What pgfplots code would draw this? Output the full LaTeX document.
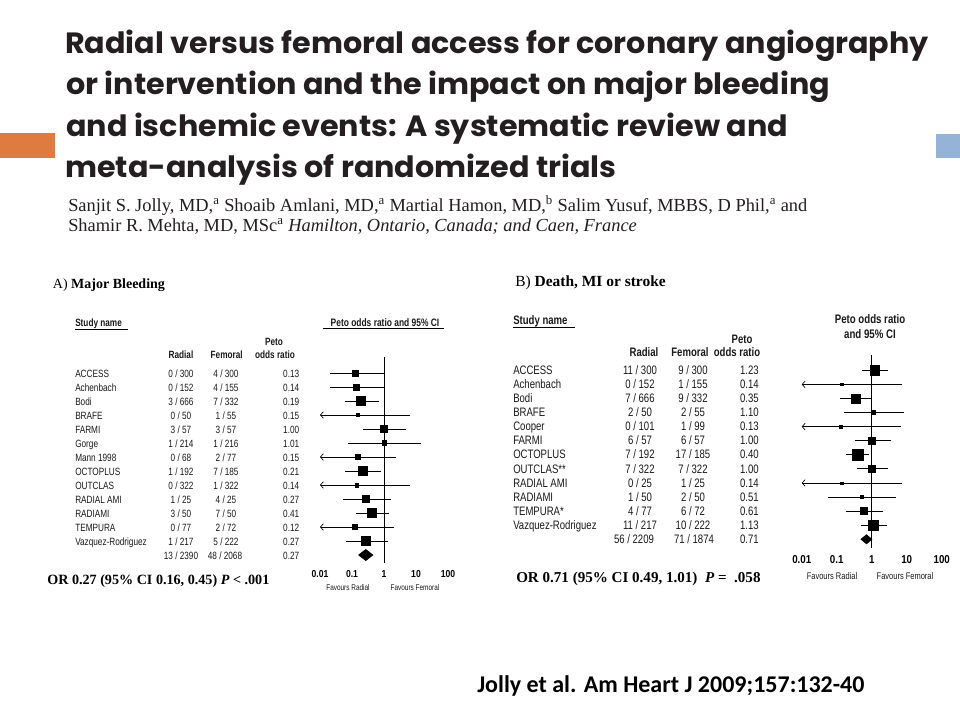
\documentclass[border=0pt]{standalone}
\usepackage{fontspec}
\usepackage{pgfplots}
\usepackage{pgfplotstable}
\pgfplotsset{compat=1.18}
\usetikzlibrary{arrows.meta}
\setmainfont{Liberation Serif}
\newfontfamily\titlefont{Poppins}[FakeStretch=1.03]
\newfontfamily\narrowfont{Liberation Sans}[FakeStretch=0.78]
\newfontfamily\ticfont{Liberation Sans}[FakeStretch=0.85]
\newfontfamily\footfont{Carlito}
\definecolor{titlecol}{HTML}{231F20}
\definecolor{orangebar}{HTML}{E07B3F}
\definecolor{bluebar}{HTML}{95B3D7}
\definecolor{tabcol}{HTML}{1A1A1A}

% Forest plot A: row, Peto OR, lower, upper, square side (px)
\pgfplotstableread{
row or   lo    hi   sz
0  0.13 0.02  1.00 6.0
1  0.14 0.02  1.00 6.0
2  0.19 0.06  0.71 9.5
3  0.15 0.01  6.7  3.3
4  1.00 0.22  4.7  7.3
5  1.01 0.074 14   4.7
6  0.15 0.01  2.3  4.7
7  0.21 0.061 0.81 9.0
8  0.14 0.01  6.5  3.7
9  0.27 0.052 1.66 7.0
10 0.41 0.13  1.47 9.3
11 0.12 0.01  2.0  4.7
12 0.27 0.066 1.29 8.7
}\forestA
% Forest plot B
\pgfplotstableread{
row or   lo    hi   sz
0  1.23 0.52  3.0  9.7
1  0.14 0.01  7.2  2.7
2  0.35 0.12  1.0  8.7
3  1.10 0.16  8.4  3.7
4  0.13 0.01  6.7  2.4
5  1.00 0.33  3.5  7.3
6  0.40 0.18  0.85 10.7
7  1.00 0.39  2.98 7.3
8  0.14 0.01  7.2  2.2
9  0.51 0.058 4.9  3.4
10 0.61 0.18  2.15 7.0
11 1.13 0.48  2.8  10.3
}\forestB

\tikzset{
  myci/.style={black, line width=0.6pt},
  mycia/.style={black, line width=0.6pt, {Straight Barb[length=2.2pt,width=5pt,line width=0.5pt]}-},
}

\begin{document}
\begin{tikzpicture}
\path[use as bounding box] (0,0) rectangle (720pt,-540pt);
\fill[white] (0,0) rectangle (720pt,-540pt);

\begin{scope}[x=0.75pt, y=-0.75pt]
% side bars
\fill[orangebar] (0,133.3) rectangle (55,157.7);
\fill[bluebar] (936,134) rectangle (960,157.7);

% title
\tikzset{ttl/.style={anchor=base west, inner sep=0, text=titlecol, font=\titlefont\bfseries\fontsize{22}{24}\selectfont}}
\node[ttl] at (65,53.5) {Radial versus femoral access for coronary angiography};
\node[ttl] at (66,95) {or intervention and the impact on major bleeding};
\node[ttl] at (66,136.5) {and ischemic events: A systematic review and};
\node[ttl] at (65,178) {meta-analysis of randomized trials};

% authors
\tikzset{aut/.style={anchor=base west, inner sep=0, text=titlecol, font=\fontsize{13.8}{16}\selectfont}}
\node[aut] at (68,211.5) {Sanjit S. Jolly, MD,\textsuperscript{a} Shoaib Amlani, MD,\textsuperscript{a} Martial Hamon, MD,\textsuperscript{b} Salim Yusuf, MBBS, D Phil,\textsuperscript{a} and};
\node[aut] at (68,231.5) {Shamir R. Mehta, MD, MSc\textsuperscript{a} \textit{Hamilton, Ontario, Canada; and Caen, France}};

% ---------- Panel A text ----------
\node[anchor=base west, inner sep=0, font=\fontsize{10.5}{12}\selectfont] at (52.7,288) {A) \textbf{Major Bleeding}};
\tikzset{tabA/.style={inner sep=0, text=tabcol, font=\narrowfont\fontsize{7.9}{9}\selectfont},
         hdA/.style={inner sep=0, text=tabcol, font=\narrowfont\bfseries\fontsize{7.9}{9}\selectfont}}
\node[hdA, anchor=base west] at (75,326.7) {Study name};
\draw[line width=0.6pt] (75,329.5) -- (128,329.5);
\node[hdA, anchor=base] at (274,345.3) {Peto};
\node[hdA, anchor=base] at (275,358.2) {odds ratio};
\node[hdA, anchor=base] at (181,358.2) {Radial};
\node[hdA, anchor=base] at (226.7,358.2) {Femoral};
\foreach \n/\ra/\rb/\fa/\fb/\o [count=\i from 0] in {
 ACCESS/0/300/4/300/0.13, Achenbach/0/152/4/155/0.14, Bodi/3/666/7/332/0.19,
 BRAFE/0/50/1/55/0.15, FARMI/3/57/3/57/1.00, Gorge/1/214/1/216/1.01,
 Mann 1998/0/68/2/77/0.15, OCTOPLUS/1/192/7/185/0.21, OUTCLAS/0/322/1/322/0.14,
 RADIAL AMI/1/25/4/25/0.27, RADIAMI/3/50/7/50/0.41, TEMPURA/0/77/2/72/0.12,
 Vazquez-Rodriguez/1/217/5/222/0.27}{
  \pgfmathsetmacro\yy{377.7+13.98*\i}
  \node[tabA, anchor=base west] at (75,\yy) {\n};
  \node[tabA, anchor=base] at (181,\yy) {\ra{} / \rb};
  \node[tabA, anchor=base] at (226,\yy) {\fa{} / \fb};
  \node[tabA, anchor=base east] at (299.5,\yy) {\o};
}
\node[tabA, anchor=base] at (181,559.4) {13 / 2390};
\node[tabA, anchor=base] at (225,559.4) {48 / 2068};
\node[tabA, anchor=base east] at (299.5,559.4) {0.27};
\node[anchor=base west, inner sep=0, font=\bfseries\fontsize{10.6}{12}\selectfont] at (47,584) {OR 0.27 (95\% CI 0.16, 0.45) \textit{P} < .001};

% forest A header / footer
\node[hdA, anchor=base, font=\narrowfont\bfseries\fontsize{8.1}{9}\selectfont] at (385,326.3) {Peto odds ratio and 95\% CI};
\draw[line width=0.6pt] (323,328.8) -- (444,328.8);
\node[tabA, anchor=base, font=\narrowfont\fontsize{6.2}{7}\selectfont] at (348,590) {Favours Radial};
\node[tabA, anchor=base, font=\narrowfont\fontsize{6.2}{7}\selectfont] at (415,590) {Favours Femoral};

% ---------- Panel B text ----------
\node[anchor=base west, inner sep=0, font=\fontsize{11.6}{13}\selectfont] at (515,286.5) {B) \textbf{Death, MI or stroke}};
\tikzset{tabB/.style={inner sep=0, text=tabcol, font=\narrowfont\fontsize{9.2}{10}\selectfont},
         hdB/.style={inner sep=0, text=tabcol, font=\narrowfont\bfseries\fontsize{9.2}{10}\selectfont}}
\node[hdB, anchor=base west] at (513,324.5) {Study name};
\draw[line width=0.6pt] (513,327.5) -- (575,327.5);
\node[hdB, anchor=base] at (742,343) {Peto};
\node[hdB, anchor=base] at (737,356.5) {odds ratio};
\node[hdB, anchor=base] at (644,356.5) {Radial};
\node[hdB, anchor=base] at (690,356.5) {Femoral};
\foreach \n/\ra/\rb/\fa/\fb/\o [count=\i from 0] in {
 ACCESS/11/300/9/300/1.23, Achenbach/0/152/1/155/0.14, Bodi/7/666/9/332/0.35,
 BRAFE/2/50/2/55/1.10, Cooper/0/101/1/99/0.13, FARMI/6/57/6/57/1.00,
 OCTOPLUS/7/192/17/185/0.40, OUTCLAS**/7/322/7/322/1.00, RADIAL AMI/0/25/1/25/0.14,
 RADIAMI/1/50/2/50/0.51, TEMPURA*/4/77/6/72/0.61, Vazquez-Rodriguez/11/217/10/222/1.13}{
  \pgfmathsetmacro\yy{374.5+14.08*\i}
  \node[tabB, anchor=base west] at (513,\yy) {\n};
  \node[tabB, anchor=base] at (640,\yy) {\ra{} / \rb};
  \node[tabB, anchor=base] at (693,\yy) {\fa{} / \fb};
  \node[tabB, anchor=base east] at (759,\yy) {\o};
}
\node[tabB, anchor=base] at (634,543.5) {56 / 2209};
\node[tabB, anchor=base] at (694,543.5) {71 / 1874};
\node[tabB, anchor=base east] at (759,543.5) {0.71};
\node[anchor=base west, inner sep=0, font=\bfseries\fontsize{11.3}{13}\selectfont] at (516,582.5) {OR 0.71 (95\% CI 0.49, 1.01)\ \ \textit{P} = \ .058};

% forest B header / footer
\node[hdB, anchor=base, font=\narrowfont\bfseries\fontsize{9.3}{10}\selectfont] at (870,323.8) {Peto odds ratio};
\node[hdB, anchor=base, font=\narrowfont\bfseries\fontsize{9.3}{10}\selectfont] at (870,338.8) {and 95\% CI};
\node[tabB, anchor=base, font=\narrowfont\fontsize{7.2}{8}\selectfont] at (832,579) {Favours Radial};
\node[tabB, anchor=base, font=\narrowfont\fontsize{7.2}{8}\selectfont] at (905,579) {Favours Femoral};

% footer
\node[anchor=base west, inner sep=0, font=\footfont\bfseries\fontsize{18}{20}\selectfont] at (477,692) {Jolly et al. Am Heart J 2009;157:132-40};
\end{scope}

% ---------- Forest plot A ----------
\begin{axis}[xmode=log, scale only axis, y dir=reverse, hide y axis,
  axis x line*=bottom, x axis line style={draw=none},
  major tick length=0pt, minor tick length=0pt,
  xmin=0.01, xmax=100, clip=false,
  xtick={0.01,0.1,1,10,100}, xticklabels={0.01,0.1,1,10,100},
  at={(240pt,-267.75pt)}, anchor=north west,
  width=96pt, height=154.5pt, ymin=-1.14, ymax=13.57,
  xticklabel style={font=\ticfont\bfseries\fontsize{7.6}{9}\selectfont, yshift=-1.8pt}]
\addplot[black, line width=0.6pt, no markers] coordinates {(1,-1.14) (1,13.57)};
\addplot[myci, no markers]  coordinates {(0.02,0) (1.00,0)};
\addplot[myci, no markers]  coordinates {(0.02,1) (1.00,1)};
\addplot[myci, no markers]  coordinates {(0.06,2) (0.71,2)};
\addplot[mycia, no markers] coordinates {(0.01,3) (6.7,3)};
\addplot[myci, no markers]  coordinates {(0.22,4) (4.7,4)};
\addplot[myci, no markers]  coordinates {(0.074,5) (14,5)};
\addplot[mycia, no markers] coordinates {(0.01,6) (2.3,6)};
\addplot[myci, no markers]  coordinates {(0.061,7) (0.81,7)};
\addplot[mycia, no markers] coordinates {(0.01,8) (6.5,8)};
\addplot[myci, no markers]  coordinates {(0.052,9) (1.66,9)};
\addplot[myci, no markers]  coordinates {(0.13,10) (1.47,10)};
\addplot[mycia, no markers] coordinates {(0.01,11) (2.0,11)};
\addplot[myci, no markers]  coordinates {(0.066,12) (1.29,12)};
\addplot[only marks, mark=square*, black, scatter,
    scatter/use mapped color={draw=black, fill=black},
    visualization depends on={\thisrow{sz}*0.375 \as \msz},
    scatter/@pre marker code/.append style={/tikz/mark size=\msz}]
    table[x=or, y=row] {\forestA};
\addplot[fill=black, draw=black, line width=0.4pt, no markers] coordinates {(0.16,13) (0.27,12.6) (0.45,13) (0.27,13.4) (0.16,13)};
\end{axis}

% ---------- Forest plot B ----------
\begin{axis}[xmode=log, scale only axis, y dir=reverse, hide y axis,
  axis x line*=bottom, x axis line style={draw=none},
  major tick length=0pt, minor tick length=0pt,
  xmin=0.01, xmax=100, clip=false,
  xtick={0.01,0.1,1,10,100}, xticklabels={0.01,0.1,1,10,100},
  at={(601.3pt,-266.25pt)}, anchor=north west,
  width=105pt, height=144.75pt, ymin=-1.087, ymax=12.62,
  xticklabel style={font=\ticfont\bfseries\fontsize{8.6}{10}\selectfont, yshift=-1.8pt}]
\addplot[black, line width=0.6pt, no markers] coordinates {(1,-1.087) (1,12.62)};
\addplot[myci, no markers]  coordinates {(0.52,0) (3.0,0)};
\addplot[mycia, no markers] coordinates {(0.01,1) (7.2,1)};
\addplot[myci, no markers]  coordinates {(0.12,2) (1.0,2)};
\addplot[myci, no markers]  coordinates {(0.16,3) (8.4,3)};
\addplot[mycia, no markers] coordinates {(0.01,4) (6.7,4)};
\addplot[myci, no markers]  coordinates {(0.33,5) (3.5,5)};
\addplot[myci, no markers]  coordinates {(0.18,6) (0.85,6)};
\addplot[myci, no markers]  coordinates {(0.39,7) (2.98,7)};
\addplot[mycia, no markers] coordinates {(0.01,8) (7.2,8)};
\addplot[myci, no markers]  coordinates {(0.058,9) (4.9,9)};
\addplot[myci, no markers]  coordinates {(0.18,10) (2.15,10)};
\addplot[myci, no markers]  coordinates {(0.48,11) (2.8,11)};
\addplot[only marks, mark=square*, black, scatter,
    scatter/use mapped color={draw=black, fill=black},
    visualization depends on={\thisrow{sz}*0.375 \as \msz},
    scatter/@pre marker code/.append style={/tikz/mark size=\msz}]
    table[x=or, y=row] {\forestB};
\addplot[fill=black, draw=black, line width=0.4pt, no markers] coordinates {(0.49,12) (0.71,11.67) (1.01,12) (0.71,12.33) (0.49,12)};
\end{axis}
\end{tikzpicture}
\end{document}
